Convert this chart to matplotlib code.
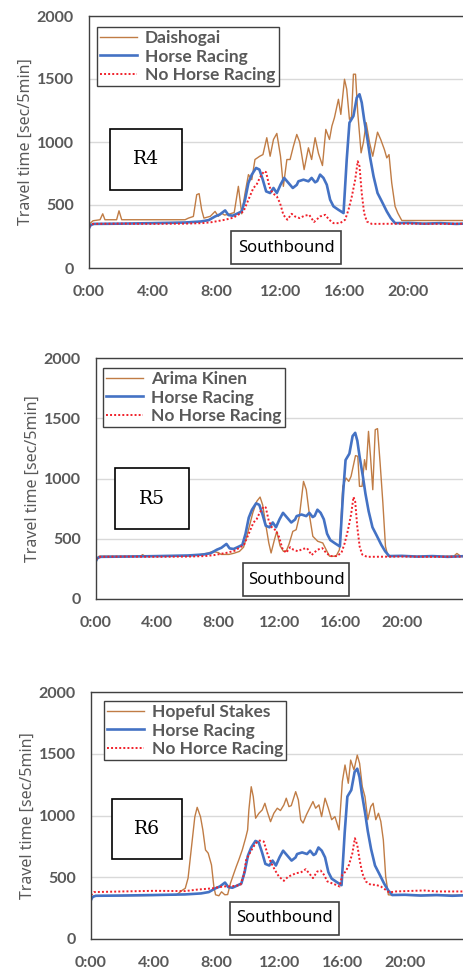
import matplotlib
matplotlib.use("Agg")
import matplotlib.pyplot as plt
from matplotlib.patches import Rectangle

plt.rcParams['font.family'] = ['Noto Sans', 'DejaVu Sans']

# --- data (hours of day, travel time in sec/5min) ---
# Horse Racing (same average in all three panels)
hr_t = [0, 0.1, 0.3, 2, 4, 6, 7, 7.5, 7.9, 8.2, 8.53, 8.74, 9.0, 9.26, 9.57, 9.78, 9.99, 10.2,
        10.47, 10.68, 10.89, 11.1, 11.35, 11.56, 11.77, 12.0, 12.23, 12.5, 12.77, 13.02, 13.12,
        13.44, 13.75, 13.95, 14.17, 14.3, 14.48, 14.69, 14.9, 15.11, 15.32, 15.63, 15.95, 16.15,
        16.32, 16.57, 16.78, 16.95, 17.09, 17.24, 17.45, 17.62, 17.83, 18.08, 18.35, 18.66,
        18.91, 19.18, 20, 21, 22, 23, 24]
hr_v = [316, 340, 350, 352, 356, 361, 369, 380, 409, 425, 457, 420, 415, 430, 449, 542, 675, 741,
        794, 781, 701, 608, 595, 635, 595, 661, 715, 675, 635, 660, 688,
        701, 688, 715, 680, 690, 741, 715, 661, 542, 489, 462, 436, 861,
        1153, 1206, 1352, 1379, 1313, 1180, 1020, 874, 728, 595, 528, 449,
        396, 356, 358, 352, 356, 350, 355]

# No Horse Racing (R4, R5)
nhr_t = [0, 0.2, 2, 4, 6, 7.1, 7.7, 8.53, 9.06, 9.68, 9.99, 10.3, 10.5, 10.7, 10.97, 11.1, 11.3,
         11.5, 11.77, 11.97, 12.18, 12.43, 12.7, 12.91, 13.2, 13.5, 13.8, 14.1, 14.48, 14.8,
         15.05, 15.32, 15.73, 16.05, 16.26, 16.47, 16.68, 16.84, 16.95, 17.09, 17.24, 17.41,
         17.72, 20, 22, 24]
nhr_v = [330, 350, 352, 350, 352, 356, 364, 383, 400, 449, 542, 635, 661, 715, 768, 760, 648,
         595, 568, 515, 422, 383, 430, 409, 396, 415, 422, 365, 409, 422,
         383, 356, 356, 383, 462, 568, 701, 847, 808, 595, 436, 369,
         350, 352, 350, 352]

# No Horce Racing (R6)
nhr6_t = [0, 0.2, 2, 4, 6, 6.76, 7.71, 8.14, 8.52, 8.88, 9.25, 9.52, 9.73, 9.88, 10.05, 10.22,
          10.48, 10.73, 11.0, 11.22, 11.43, 11.7, 11.96, 12.28, 12.56, 12.85, 13.02, 13.35,
          13.67, 13.88, 14.13, 14.4, 14.62, 14.83, 15.05, 15.32, 15.58, 15.83, 16.0, 16.21,
          16.42, 16.64, 16.8, 16.95, 17.1, 17.27, 17.49, 17.81, 18.13, 18.45, 18.76, 18.98,
          19.4, 21.2, 22, 24]
nhr6_v = [355, 380, 385, 390, 388, 400, 410, 420, 426, 426, 431, 439, 520, 641, 681, 721,
          775, 797, 789, 695, 627, 560, 506, 471, 506, 520, 533, 538,
          565, 533, 493, 546, 554, 520, 466, 452, 439, 425, 520, 546,
          600, 695, 816, 762, 641, 533, 466, 439, 439, 425, 398, 377,
          385, 393, 385, 385]

# Daishogai (R4)
dai_t = [0, 0.25, 0.69, 0.86, 1.0, 1.73, 1.88, 2.05, 6.02, 6.23, 6.54, 6.75, 6.9, 7.06, 7.2,
         7.6, 7.9, 8.1, 8.3, 8.5, 8.84, 9.1, 9.36, 9.57, 9.78, 9.99, 10.2, 10.4, 10.7, 10.9,
         11.14, 11.35, 11.56, 11.77, 12.0, 12.18, 12.4, 12.6, 12.81, 13.02, 13.2, 13.48, 13.75,
         13.95, 14.17, 14.38, 14.63, 14.84, 15.07, 15.22, 15.38, 15.63, 15.78, 16.01, 16.15,
         16.32, 16.45, 16.57, 16.7, 16.84, 17.05, 17.2, 17.37, 17.58, 17.78, 18.08, 18.28,
         18.51, 18.66, 18.8, 18.97, 19.18, 19.35, 19.6, 24]
dai_v = [345, 375, 383, 430, 383, 383, 454, 383, 383, 396, 409, 582, 590, 462, 396,
         410, 449, 410, 435, 420, 430, 440, 648, 430, 595, 741, 701, 861, 887, 900,
         1034, 887, 1020, 1068, 887, 648, 861, 861, 967, 1060, 1000, 781, 954,
         861, 1034, 909, 813, 1100, 1020, 1126, 1193, 1339, 1219, 1498, 1419,
         1180, 1200, 1538, 1538, 1233, 914, 1000, 1153, 995, 887, 1078, 1020,
         940, 874, 900, 675, 489, 436, 377, 377]

# Arima Kinen (R5)
ari_t = [0, 0.2, 2.9, 3.05, 3.2, 6.0, 6.76, 7.3, 7.63, 8.0, 8.18, 8.7, 9.03, 9.38, 9.65, 9.86,
         10.03, 10.25, 10.51, 10.73, 10.9, 11.12, 11.3, 11.45, 11.67, 11.82, 12.04, 12.26,
         12.45, 12.62, 12.87, 13.09, 13.3, 13.57, 13.75, 13.97, 14.18, 14.5, 14.83, 15.05,
         15.27, 15.7, 15.92, 16.14, 16.35, 16.53, 16.68, 16.97, 17.12, 17.23, 17.4, 17.56,
         17.67, 17.82, 17.95, 18.1, 18.26, 18.41, 18.58, 18.76, 18.93, 19.09, 20, 22, 23.4,
         23.6, 23.8, 24]
ari_v = [330, 355, 355, 368, 355, 358, 368, 380, 395, 385, 370, 370, 380, 395, 430, 520,
         603, 714, 810, 846, 780, 603, 465, 382, 493, 561, 441, 395,
         400, 454, 561, 575, 686, 976, 907, 686, 520, 479, 465, 409,
         355, 355, 409, 935, 1004, 976, 1018, 1190, 1184, 935, 935, 1156,
         1073, 1391, 1184, 907, 1405, 1414, 1128, 797, 437, 355, 355, 352, 355,
         378, 360, 355]

# Hopeful Stakes (R6)
hop_t = [0, 0.2, 3, 5.4, 5.59, 5.8, 6.0, 6.18, 6.4, 6.61, 6.76, 6.97, 7.12, 7.29, 7.46, 7.67,
         7.82, 7.93, 8.14, 8.31, 8.52, 8.7, 8.88, 9.1, 9.25, 9.41, 9.63, 9.84, 9.97, 10.05,
         10.2, 10.33, 10.48, 10.69, 10.9, 11.07, 11.22, 11.43, 11.64, 11.86, 12.06, 12.28,
         12.43, 12.6, 12.75, 13.03, 13.2, 13.35, 13.5, 13.71, 13.92, 14.13, 14.3, 14.51,
         14.68, 14.9, 15.11, 15.32, 15.53, 15.79, 16.0, 16.17, 16.38, 16.53, 16.74, 16.95,
         17.1, 17.27, 17.44, 17.62, 17.81, 17.96, 18.13, 18.3, 18.45, 18.61, 18.76, 18.93,
         19.2, 21, 24]
hop_v = [330, 350, 352, 355, 372, 394, 410, 493, 748, 990, 1066, 990, 883, 721, 695, 600,
         425, 358, 350, 382, 358, 360, 452, 533, 587, 641, 721, 816, 883, 1045,
         1233, 1153, 978, 1018, 1045, 1099, 1032, 950, 1018, 1059, 1040, 1086,
         1140, 1072, 1080, 1193, 1126, 966, 939, 1005, 1059, 1113, 1059, 1086,
         991, 1140, 1059, 966, 991, 883, 1274, 1409, 1261, 1449, 1369, 1489,
         1422, 1233, 1153, 966, 1072, 1099, 966, 1018, 952, 802, 506, 358,
         355, 352, 355]

panels = [
    ('R4', 'Daishogai', dai_t, dai_v, 'No Horse Racing', nhr_t, nhr_v),
    ('R5', 'Arima Kinen', ari_t, ari_v, 'No Horse Racing', nhr_t, nhr_v),
    ('R6', 'Hopeful Stakes', hop_t, hop_v, 'No Horce Racing', nhr6_t, nhr6_v),
]

xticks = [0, 4, 8, 12, 16, 20]
xlabels = ['0:00', '4:00', '8:00', '12:00', '16:00', '20:00']
yticks = [0, 500, 1000, 1500, 2000]

W, H = 464, 969
# pixel layout: axes (left, top, right, bottom), legend (left, top), R box, Southbound box
layout = [
    dict(ax=(89, 16, 472, 268), leg=(97, 27), rbox=(110, 129, 182, 190), sbox=(231, 231, 341, 264)),
    dict(ax=(96, 358, 463, 599), leg=(103, 368), rbox=(115, 468, 189, 529), sbox=(243, 563, 349, 596)),
    dict(ax=(91, 692, 468, 939), leg=(104, 701), rbox=(112, 799, 182, 859), sbox=(230, 902, 339, 935)),
]

brown = '#C07C45'
blue = '#4472C4'
red = '#F0202A'
gray = '#595959'
tick_font = {'family': ['Lato', 'DejaVu Sans'], 'weight': 'bold', 'size': 11.5}
leg_font = {'family': ['Lato', 'DejaVu Sans'], 'weight': 'bold', 'size': 12.5}

fig = plt.figure(figsize=(W / 100, H / 100), dpi=100)


def fx(x):
    return x / W


def fy(y):
    return 1 - y / H


for (rname, ename, et, ev, nname, nt, nv), lay in zip(panels, layout):
    l, t, r, b = lay['ax']
    ax = fig.add_axes([fx(l), fy(b), (r - l) / W, (b - t) / H])
    ax.plot(et, ev, color=brown, lw=1.0, label=ename)
    ax.plot(hr_t, hr_v, color=blue, lw=1.9, label='Horse Racing')
    ax.plot(nt, nv, color=red, lw=1.4, ls=(0, (1, 1.1)), label=nname)
    ax.set_xlim(0, 24)
    ax.set_ylim(0, 2000)
    ax.set_xticks(xticks)
    ax.set_xticklabels(xlabels, fontdict=tick_font, color=gray)
    ax.set_yticks(yticks)
    ax.set_yticklabels([str(v) for v in yticks], fontdict=tick_font, color=gray)
    ax.tick_params(axis='x', length=0, pad=12)
    ax.tick_params(axis='y', length=0, pad=11)
    ax.grid(axis='y', color='#D9D9D9', lw=1)
    ax.set_axisbelow(True)
    for s in ['left', 'top', 'bottom']:
        ax.spines[s].set_color('#404040')
        ax.spines[s].set_linewidth(1)
    ax.spines['right'].set_visible(False)
    ax.set_ylabel('Travel time [sec/5min]', fontsize=11.5, color=gray, labelpad=2)

    lx, ly = lay['leg']
    leg = ax.legend(loc='upper left', bbox_to_anchor=(fx(lx), fy(ly)),
                    bbox_transform=fig.transFigure, frameon=True, fancybox=False,
                    edgecolor='#404040', framealpha=1, borderpad=0.2,
                    labelspacing=0.12, handlelength=2.1, handletextpad=0.45,
                    borderaxespad=0, prop=leg_font)
    leg.get_frame().set_linewidth(1)
    for txt in leg.get_texts():
        txt.set_color(gray)

    x0, y0, x1, y1 = lay['rbox']
    fig.add_artist(Rectangle((fx(x0), fy(y1)), (x1 - x0) / W, (y1 - y0) / H,
                             transform=fig.transFigure, fill=True, facecolor='white',
                             edgecolor='black', lw=1.2))
    fig.text(fx((x0 + x1) / 2), fy((y0 + y1) / 2), rname, ha='center', va='center',
             family='DejaVu Serif', fontsize=13.5)

    x0, y0, x1, y1 = lay['sbox']
    fig.add_artist(Rectangle((fx(x0), fy(y1)), (x1 - x0) / W, (y1 - y0) / H,
                             transform=fig.transFigure, fill=True, facecolor='white',
                             edgecolor='#404040', lw=1.2))
    fig.text(fx((x0 + x1) / 2), fy((y0 + y1) / 2), 'Southbound', ha='center', va='center',
             fontsize=12, color='black')

fig.savefig('out.png', dpi=100)
